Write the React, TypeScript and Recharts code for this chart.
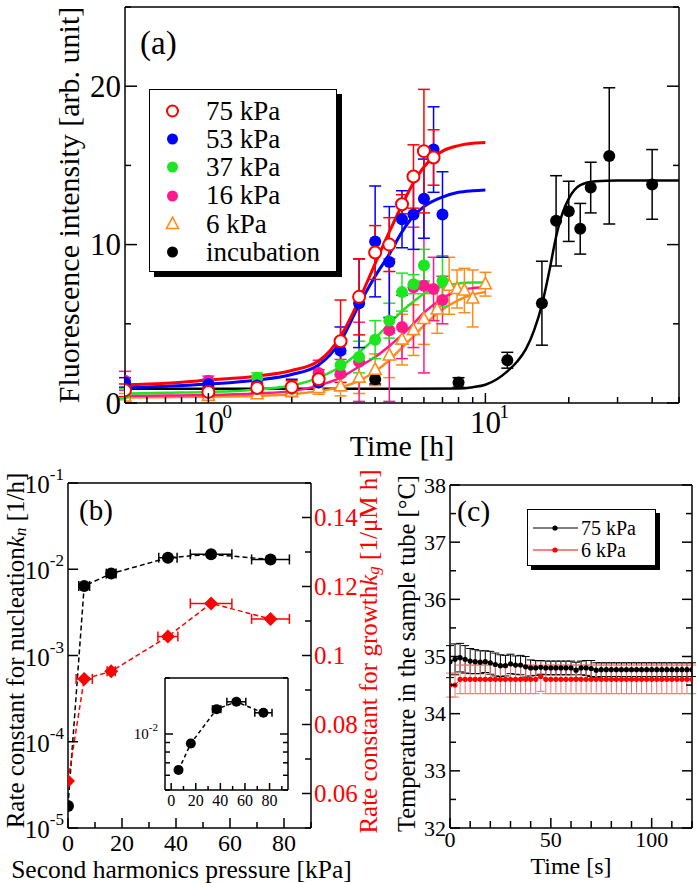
'use client'

import React from 'react'
import { ComposedChart, Line, Scatter, XAxis, YAxis, ErrorBar, Legend, Label, CartesianGrid } from 'recharts'

const serif = 'Liberation Serif, DejaVu Serif, serif'
const zero = { top: 0, right: 0, bottom: 0, left: 0 }
const frame = { stroke: '#000', strokeWidth: 1.5 }

// ---------- (a) fluorescence vs time ----------
const t75 = [0.5, 1, 1.5, 2, 2.5, 3, 3.5, 4, 4.5, 5, 5.5, 6, 6.5]
const v75 = [0.8, 0.7, 0.95, 1.0, 1.5, 3.9, 6.7, 9.5, 10.0, 12.55, 14.3, 15.9, 15.5]
const e75 = [0.4, 0.3, 0.3, 0.4, 0.6, 2.6, 2.4, 1.7, 1.7, 0.6, 2.0, 3.9, 1.75]

const t53 = [0.5, 1, 1.5, 2, 2.5, 3, 3.5, 4, 4.5, 5, 5.5, 6, 6.5, 7]
const v53 = [1.3, 1.2, 1.1, 1.0, 1.3, 3.3, 6.3, 10.2, 8.9, 11.6, 11.9, 12.9, 16.0, 11.9]
const e53 = [0.3, 0.3, 0.3, 0.5, 0.4, 1.5, 2.8, 3.5, 3.5, 1.8, 2.2, 2.5, 2.7, 2.7]

const t37 = [0.5, 1, 1.5, 2, 2.5, 3, 3.5, 4, 4.5, 5, 5.5, 6, 7]
const v37 = [0.6, 0.7, 1.6, 0.9, 1.3, 2.4, 2.9, 4.0, 5.2, 7.0, 7.5, 8.7, 7.7]
const e37 = [0.3, 0.3, 0.3, 0.3, 0.4, 0.7, 1.0, 1.2, 1.1, 1.2, 0.6, 1.0, 1.6]

const t16 = [0.5, 1, 1.5, 2, 2.5, 3, 3.5, 4.5, 5, 5.5, 6, 6.5, 7]
const v16 = [1.4, 1.4, 1.2, 0.9, 1.9, 1.85, 2.6, 4.6, 4.8, 7.3, 7.4, 7.2, 6.5]
const e16 = [0.6, 0.3, 0.3, 0.3, 0.8, 0.9, 2.5, 4.5, 2.0, 3.8, 5.5, 2.0, 1.5]

const t6 = [0.5, 1, 1.5, 2, 2.5, 3, 3.5, 4, 4.5, 5, 5.5, 6, 6.7, 7.4, 7.9, 8.4, 9, 10]
const v6 = [0.4, 0.45, 0.55, 0.7, 0.95, 1.05, 1.6, 2.1, 3.0, 4.0, 4.6, 5.3, 5.9, 7.4, 7.2, 7.1, 6.6, 7.5]
const e6 = [0.2, 0.2, 0.2, 0.3, 0.4, 0.6, 1.0, 1.0, 1.4, 1.6, 1.6, 1.6, 1.5, 1.8, 1.2, 1.4, 1.8, 0.75]

const tInc = [4, 8, 12, 16, 18, 20, 22, 24, 28, 40]
const vInc = [1.5, 1.3, 2.7, 6.3, 11.5, 12.1, 11.0, 13.6, 15.6, 13.8]
const eInc = [0.3, 0.3, 0.5, 2.65, 2.85, 1.9, 1.6, 1.6, 4.3, 2.2]

// fitted curves
const fitT = [0.5, 0.7, 1, 1.5, 2, 2.5, 3, 3.5, 4, 4.5, 5, 5.5, 6, 7, 8, 9, 10]
const fit75 = [1.15, 1.25, 1.45, 1.7, 2.05, 2.65, 4.2, 6.5, 8.8, 10.8, 12.5, 13.9, 14.9, 15.9, 16.25, 16.4, 16.45]
const fit53 = [0.95, 1.05, 1.2, 1.45, 1.8, 2.4, 3.9, 6.2, 8.0, 9.4, 10.8, 11.8, 12.4, 13.0, 13.3, 13.4, 13.45]
const fit37 = [0.6, 0.65, 0.7, 0.85, 1.1, 1.6, 2.3, 3.2, 4.1, 5.0, 5.8, 6.4, 6.9, 7.35, 7.55, 7.6, 7.6]
const fit16 = [0.45, 0.47, 0.5, 0.6, 0.75, 1.1, 1.6, 2.3, 2.9, 3.6, 4.3, 5.0, 5.7, 6.6, 7.1, 7.25, 7.3]
const fit6 = [0.35, 0.37, 0.4, 0.45, 0.55, 0.75, 1.0, 1.4, 2.0, 2.7, 3.5, 4.2, 4.9, 5.9, 6.5, 6.85, 7.0]
const fitTInc = [0.5, 2, 5, 8, 9, 10, 11, 12, 13, 14, 15, 16, 17, 18, 19, 20, 22, 25, 30, 50]
const fitInc = [0.9, 0.9, 0.9, 0.92, 1.0, 1.15, 1.5, 2.0, 2.6, 3.4, 4.6, 6.2, 8.3, 10.5, 12.0, 12.9, 13.75, 14.0, 14.05, 14.05]

const ticksAx = [0.5, 0.6, 0.7, 0.8, 0.9, 1, 2, 3, 4, 5, 6, 7, 8, 9, 10, 20, 30, 40, 50]
const labelsAx = [1, 10]
const ticksAy = [0, 5, 10, 15, 20, 25]
const labelsAy = [0, 10, 20]

// ---------- (b) rate constants ----------
const pressure = [0, 6, 16, 37, 53, 75]
const pressureErrKn = [0, 2, 1.8, 3.4, 7.7, 7]
const pressureErrKg = [0, 3, 1.5, 3.7, 7.7, 7]
const kn = [1.8e-5, 6.4e-3, 8.9e-3, 1.36e-2, 1.49e-2, 1.3e-2]
const kg = [0.0636, 0.0932, 0.0954, 0.1055, 0.1151, 0.1106]

const ticksBx = [0, 10, 20, 30, 40, 50, 60, 70, 80, 90]
const labelsBx = [0, 20, 40, 60, 80]
const ticksBl = [1e-5, 1e-4, 1e-3, 1e-2, 1e-1]
const ticksBr = [0.05, 0.06, 0.07, 0.08, 0.09, 0.1, 0.11, 0.12, 0.13, 0.14, 0.15]
const labelsBr = [0.06, 0.08, 0.1, 0.12, 0.14]
const ticksInsetX = [0, 10, 20, 30, 40, 50, 60, 70, 80, 90]
const ticksInsetY = [0.005, 0.006, 0.007, 0.008, 0.009, 0.01, 0.02]

// ---------- (c) temperature ----------
const timeC = [0, 2.5, 5, 7.5, 10, 12.5, 15, 17.5, 20, 22.5, 25, 27.5, 30, 32.5, 35, 37.5, 40, 42.5, 45, 47.5, 50, 52.5, 55, 57.5, 60, 62.5, 65, 67.5, 70, 72.5, 75, 77.5, 80, 82.5, 85, 87.5, 90, 92.5, 95, 97.5, 100, 102.5, 105, 107.5, 110, 112.5, 115, 117.5, 120]
const temp75 = [34.91, 34.95, 34.98, 34.95, 34.92, 34.91, 34.9, 34.91, 34.89, 34.86, 34.84, 34.84, 34.87, 34.85, 34.85, 34.82, 34.8, 34.8, 34.81, 34.8, 34.8, 34.8, 34.8, 34.8, 34.8, 34.76, 34.8, 34.8, 34.79, 34.76, 34.77, 34.77, 34.77, 34.77, 34.77, 34.77, 34.77, 34.77, 34.77, 34.77, 34.77, 34.77, 34.77, 34.77, 34.77, 34.77, 34.77, 34.77, 34.77]
const err75 = [0.28, 0.27, 0.25, 0.24, 0.22, 0.21, 0.2, 0.19, 0.2, 0.2, 0.19, 0.18, 0.17, 0.16, 0.17, 0.18, 0.14, 0.13, 0.12, 0.12, 0.12, 0.12, 0.12, 0.12, 0.12, 0.14, 0.12, 0.13, 0.14, 0.13, 0.12, 0.12, 0.12, 0.12, 0.12, 0.12, 0.12, 0.12, 0.12, 0.12, 0.12, 0.12, 0.12, 0.12, 0.12, 0.12, 0.12, 0.12, 0.12]
const temp6 = [34.5, 34.5, 34.6, 34.6, 34.6, 34.6, 34.6, 34.6, 34.6, 34.6, 34.6, 34.6, 34.6, 34.6, 34.6, 34.6, 34.6, 34.6, 34.65, 34.6, 34.6, 34.6, 34.6, 34.6, 34.6, 34.6, 34.6, 34.6, 34.6, 34.6, 34.6, 34.6, 34.6, 34.6, 34.6, 34.6, 34.6, 34.6, 34.6, 34.6, 34.6, 34.6, 34.6, 34.6, 34.6, 34.6, 34.6, 34.6, 34.6]
const err6 = [0.21, 0.21, 0.25, 0.25, 0.25, 0.25, 0.25, 0.25, 0.25, 0.25, 0.25, 0.25, 0.25, 0.25, 0.25, 0.25, 0.25, 0.25, 0.26, 0.25, 0.25, 0.25, 0.25, 0.25, 0.25, 0.25, 0.25, 0.25, 0.25, 0.25, 0.25, 0.25, 0.25, 0.25, 0.25, 0.25, 0.25, 0.25, 0.25, 0.25, 0.25, 0.25, 0.25, 0.25, 0.25, 0.25, 0.25, 0.25, 0.25]
const ticksCx = [0, 10, 20, 30, 40, 50, 60, 70, 80, 90, 100, 110, 120]
const labelsCx = [0, 50, 100]
const ticksCy = [32, 32.5, 33, 33.5, 34, 34.5, 35, 35.5, 36, 36.5, 37, 37.5, 38]

const rowsOf = (xs: number[], ys: number[], es?: number[]) =>
  xs.map((x, i) => ({ x, y: ys[i], e: es ? es[i] : 0 }))

type Kind = 'dot' | 'ring' | 'tri' | 'diamond'

function Glyph({ kind, cx, cy, r, color }: { kind: Kind; cx: number; cy: number; r: number; color: string }) {
  if (kind === 'ring') return <circle cx={cx} cy={cy} r={r} fill="#fff" stroke={color} strokeWidth={2} />
  if (kind === 'tri')
    return (
      <polygon
        points={`${cx},${cy - r * 1.15} ${cx - r},${cy + r * 0.75} ${cx + r},${cy + r * 0.75}`}
        fill="#fff"
        stroke={color}
        strokeWidth={1.6}
      />
    )
  if (kind === 'diamond')
    return <polygon points={`${cx},${cy - r} ${cx + r},${cy} ${cx},${cy + r} ${cx - r},${cy}`} fill={color} />
  return <circle cx={cx} cy={cy} r={r} fill={color} />
}

const shapeOf = (kind: Kind, color: string, r: number) => (p: any) =>
  <Glyph kind={kind} cx={p.cx} cy={p.cy} r={r} color={color} />

type Side = 'bottom' | 'top' | 'left' | 'right'

// inward tick line + optional label
const tickRenderer =
  (side: Side, len: (v: number) => number, label?: (x: number, y: number, v: number) => React.ReactNode) =>
  (p: any) => {
    const v = p.payload.value
    const l = len(v)
    const x2 = side === 'left' ? p.x + l : side === 'right' ? p.x - l : p.x
    const y2 = side === 'bottom' ? p.y - l : side === 'top' ? p.y + l : p.y
    return (
      <g>
        <line x1={p.x} y1={p.y} x2={x2} y2={y2} stroke="#000" strokeWidth={1.5} />
        {label ? label(p.x, p.y, v) : null}
      </g>
    )
  }

const exp10 = (v: number) => Math.round(Math.log10(v))

const hTitle = (text: React.ReactNode, dy: number, size: number, dx = 0) => (p: any) => {
  const vb = p.viewBox
  return (
    <text x={vb.x + vb.width / 2 + dx} y={vb.y + dy} textAnchor="middle" fontFamily={serif} fontSize={size} fill="#000">
      {text}
    </text>
  )
}

const vTitle = (text: React.ReactNode, dx: number, size: number, fill = '#000', dy = 0) => (p: any) => {
  const vb = p.viewBox
  const cx = vb.x + dx
  const cy = vb.y + vb.height / 2 + dy
  return (
    <text
      x={cx}
      y={cy}
      transform={`rotate(-90 ${cx} ${cy})`}
      textAnchor="middle"
      dominantBaseline="central"
      fontFamily={serif}
      fontSize={size}
      fill={fill}
    >
      {text}
    </text>
  )
}

const seriesA: { name: string; t: number[]; v: number[]; e: number[]; ft: number[]; fv: number[]; color: string; kind: Kind; lw: number }[] = [
  { name: 'incubation', t: tInc, v: vInc, e: eInc, ft: fitTInc, fv: fitInc, color: '#000000', kind: 'dot', lw: 2.5 },
  { name: '6 kPa', t: t6, v: v6, e: e6, ft: fitT, fv: fit6, color: '#ff8c1a', kind: 'tri', lw: 2.5 },
  { name: '16 kPa', t: t16, v: v16, e: e16, ft: fitT, fv: fit16, color: '#ff1a8c', kind: 'dot', lw: 2.5 },
  { name: '37 kPa', t: t37, v: v37, e: e37, ft: fitT, fv: fit37, color: '#1ee61e', kind: 'dot', lw: 2.5 },
  { name: '53 kPa', t: t53, v: v53, e: e53, ft: fitT, fv: fit53, color: '#0000ff', kind: 'dot', lw: 3 },
  { name: '75 kPa', t: t75, v: v75, e: e75, ft: fitT, fv: fit75, color: '#ff0000', kind: 'ring', lw: 3 },
]
const legendOrderA = ['75 kPa', '53 kPa', '37 kPa', '16 kPa', '6 kPa', 'incubation']

function LegendA() {
  return (
    <div
      style={{
        boxSizing: 'border-box',
        width: 188,
        height: 183,
        border: '1.5px solid #000',
        boxShadow: '5px 5px 0 0 #000',
        background: '#fff',
        paddingTop: 6.5,
        fontFamily: serif,
        fontSize: 27,
        color: '#000',
      }}
    >
      {legendOrderA.map((n) => {
        const s = seriesA.find((q) => q.name === n)!
        return (
          <div key={n} style={{ display: 'flex', alignItems: 'center', height: 28.34, lineHeight: '28.34px' }}>
            <svg width={56} height={20} style={{ flex: 'none' }}>
              <Glyph kind={s.kind} cx={22.5} cy={10} r={s.kind === 'tri' ? 6 : 5.5} color={s.color} />
            </svg>
            <span style={{ whiteSpace: 'nowrap' }}>{n}</span>
          </div>
        )
      })}
    </div>
  )
}

function PanelA() {
  return (
    <ComposedChart width={697} height={470} margin={zero}>
      <XAxis
        dataKey="x"
        type="number"
        scale="log"
        domain={[0.5, 50]}
        allowDataOverflow
        ticks={ticksAx}
        interval={0}
        height={67}
        axisLine={frame}
        tickLine={false}
        tickSize={0}
        tickMargin={0}
        tick={tickRenderer(
          'bottom',
          (v) => (labelsAx.includes(v) ? 10 : 6),
          (x, y, v) =>
            labelsAx.includes(v) ? (
              <g fontFamily={serif} fill="#000">
                <text x={x} y={y + 30} fontSize={31} textAnchor="middle">10</text>
                <text x={x + 14} y={y + 15} fontSize={19}>{exp10(v)}</text>
              </g>
            ) : null,
        )}
      >
        <Label content={hTitle('Time [h]', 53, 30)} />
      </XAxis>
      <XAxis
        xAxisId="top"
        orientation="top"
        type="number"
        scale="log"
        domain={[0.5, 50]}
        allowDataOverflow
        ticks={ticksAx}
        interval={0}
        height={7}
        axisLine={frame}
        tickLine={false}
        tickSize={0}
        tickMargin={0}
        tick={tickRenderer('top', (v) => (labelsAx.includes(v) ? 11 : 5))}
      />
      <YAxis
        dataKey="y"
        type="number"
        domain={[0, 25]}
        allowDataOverflow
        ticks={ticksAy}
        interval={0}
        width={125}
        axisLine={frame}
        tickLine={false}
        tickSize={0}
        tickMargin={0}
        tick={tickRenderer(
          'left',
          (v) => (labelsAy.includes(v) ? 12 : 6),
          (x, y, v) =>
            labelsAy.includes(v) ? (
              <text x={x - 4} y={y + 10.5} textAnchor="end" fontFamily={serif} fontSize={31} fill="#000">{v}</text>
            ) : null,
        )}
      >
        <Label content={vTitle('Fluorescence intensity [arb. unit]', 68, 30)} />
      </YAxis>
      <YAxis
        yAxisId="right"
        orientation="right"
        type="number"
        domain={[0, 25]}
        allowDataOverflow
        ticks={ticksAy}
        interval={0}
        width={18}
        axisLine={frame}
        tickLine={false}
        tickSize={0}
        tickMargin={0}
        tick={tickRenderer('right', (v) => (labelsAy.includes(v) ? 12 : 6))}
      />
      {seriesA.map((s) => [
        <Line
          key={s.name + '-fit'}
          data={rowsOf(s.ft, s.fv)}
          dataKey="y"
          type="monotone"
          stroke={s.color}
          strokeWidth={s.lw}
          dot={false}
          legendType="none"
          isAnimationActive={false}
        />,
        <Scatter
          key={s.name}
          name={s.name}
          data={rowsOf(s.t, s.v, s.e)}
          fill={s.color}
          shape={shapeOf(s.kind, s.color, 6)}
          isAnimationActive={false}
        >
          <ErrorBar dataKey="e" direction="y" width={6} stroke={s.color} strokeWidth={1.5} />
        </Scatter>,
      ])}
      <Legend
        layout="horizontal"
        verticalAlign="middle"
        align="center"
        wrapperStyle={{ left: 149, top: 89, width: 188, height: 183 }}
        content={() => <LegendA />}
      />
    </ComposedChart>
  )
}

const knRows = rowsOf(pressure, kn, pressureErrKn)
const kgRows = rowsOf(pressure, kg, pressureErrKg)

function PanelB() {
  return (
    <ComposedChart width={400} height={423} margin={zero}>
      <XAxis
        dataKey="x"
        type="number"
        domain={[0, 90]}
        allowDataOverflow
        ticks={ticksBx}
        interval={0}
        height={55}
        axisLine={frame}
        tickLine={false}
        tickSize={0}
        tickMargin={0}
        tick={tickRenderer(
          'bottom',
          (v) => (labelsBx.includes(v) ? 10 : 6),
          (x, y, v) =>
            labelsBx.includes(v) ? (
              <text x={x} y={y + 23} textAnchor="middle" fontFamily={serif} fontSize={24} fill="#000">{v}</text>
            ) : null,
        )}
      >
        <Label content={hTitle('Second harmonics pressure [kPa]', 49.5, 25.5, -8)} />
      </XAxis>
      <XAxis
        xAxisId="top"
        orientation="top"
        type="number"
        domain={[0, 90]}
        allowDataOverflow
        ticks={ticksBx}
        interval={0}
        height={23}
        axisLine={frame}
        tickLine={false}
        tickSize={0}
        tickMargin={0}
        tick={tickRenderer('top', (v) => (labelsBx.includes(v) ? 10 : 6))}
      />
      <YAxis
        dataKey="y"
        type="number"
        scale="log"
        domain={[1e-5, 1e-1]}
        allowDataOverflow
        ticks={ticksBl}
        interval={0}
        width={68}
        axisLine={frame}
        tickLine={false}
        tickSize={0}
        tickMargin={0}
        tick={tickRenderer(
          'left',
          () => 10,
          (x, y, v) => (
            <text x={x - 4} y={y + 10} textAnchor="end" fontFamily={serif} fontSize={25} fill="#000">
              10<tspan dy={-13} fontSize={17}>{exp10(v)}</tspan>
            </text>
          ),
        )}
      >
        <Label
          content={vTitle(
            <>
              Rate constant for nucleation<tspan fontStyle="italic">k</tspan>
              <tspan fontStyle="italic" fontSize={17} dy={5}>n</tspan>
              <tspan dy={-5}> [1/h]</tspan>
            </>,
            15,
            25,
            '#000',
            -5,
          )}
        />
      </YAxis>
      <YAxis
        yAxisId="kg"
        orientation="right"
        dataKey="y"
        type="number"
        domain={[0.05, 0.15]}
        allowDataOverflow
        ticks={ticksBr}
        interval={0}
        width={89}
        axisLine={frame}
        tickLine={false}
        tickSize={0}
        tickMargin={0}
        tick={tickRenderer(
          'right',
          (v) => (labelsBr.includes(v) ? 9 : 6),
          (x, y, v) =>
            labelsBr.includes(v) ? (
              <text x={x + 3} y={y + 8.5} textAnchor="start" fontFamily={serif} fontSize={25} fill="#ff0000">
                {String(v)}
              </text>
            ) : null,
        )}
      >
        <Label
          content={vTitle(
            <>
              Rate constant for growth<tspan fontStyle="italic">k</tspan>
              <tspan fontStyle="italic" fontSize={17} dy={5}>g</tspan>
              <tspan dy={-5}> [1/μM h]</tspan>
            </>,
            57,
            25,
            '#ff0000',
            -4,
          )}
        />
      </YAxis>
      <Line data={knRows} dataKey="y" type="linear" stroke="#000" strokeWidth={1.5} strokeDasharray="5 3" dot={false} legendType="none" isAnimationActive={false} />
      <Line yAxisId="kg" data={kgRows} dataKey="y" type="linear" stroke="#ff0000" strokeWidth={1.5} strokeDasharray="5 3" dot={false} legendType="none" isAnimationActive={false} />
      <Scatter name="kn" data={knRows} fill="#000" shape={shapeOf('dot', '#000', 6)} isAnimationActive={false}>
        <ErrorBar dataKey="e" direction="x" width={5} stroke="#000" strokeWidth={1.5} />
      </Scatter>
      <Scatter yAxisId="kg" name="kg" data={kgRows} fill="#ff0000" shape={shapeOf('diamond', '#ff0000', 7)} isAnimationActive={false}>
        <ErrorBar dataKey="e" direction="x" width={5} stroke="#ff0000" strokeWidth={1.5} />
      </Scatter>
    </ComposedChart>
  )
}

const insetRows = rowsOf(pressure.slice(1), kn.slice(1), pressureErrKn.slice(1))

function InsetB() {
  return (
    <ComposedChart width={176} height={142} margin={zero}>
      <CartesianGrid fill="#fff" stroke="none" horizontal={false} vertical={false} />
      <XAxis
        dataKey="x"
        type="number"
        domain={[-5, 95]}
        allowDataOverflow
        ticks={ticksInsetX}
        interval={0}
        height={20}
        axisLine={frame}
        tickLine={false}
        tickSize={0}
        tickMargin={0}
        tick={tickRenderer(
          'bottom',
          (v) => (labelsBx.includes(v) ? 7 : 4),
          (x, y, v) =>
            labelsBx.includes(v) ? (
              <text x={x} y={y + 16} textAnchor="middle" fontFamily={serif} fontSize={16} fill="#000">{v}</text>
            ) : null,
        )}
      />
      <XAxis
        xAxisId="top"
        orientation="top"
        type="number"
        domain={[-5, 95]}
        allowDataOverflow
        ticks={ticksInsetX}
        interval={0}
        height={10}
        axisLine={frame}
        tickLine={false}
        tickSize={0}
        tickMargin={0}
        tick={tickRenderer('top', (v) => (labelsBx.includes(v) ? 7 : 4))}
      />
      <YAxis
        dataKey="y"
        type="number"
        scale="log"
        domain={[0.005, 0.02]}
        allowDataOverflow
        ticks={ticksInsetY}
        interval={0}
        width={45}
        axisLine={frame}
        tickLine={false}
        tickSize={0}
        tickMargin={0}
        tick={tickRenderer(
          'left',
          (v) => (v === 0.01 ? 8 : 5),
          (x, y, v) =>
            v === 0.01 ? (
              <text x={x - 7} y={y + 5} textAnchor="end" fontFamily={serif} fontSize={15} fill="#000">
                10<tspan dy={-8} fontSize={11}>{exp10(v)}</tspan>
              </text>
            ) : null,
        )}
      />
      <YAxis
        yAxisId="right"
        orientation="right"
        type="number"
        scale="log"
        domain={[0.005, 0.02]}
        allowDataOverflow
        ticks={ticksInsetY}
        interval={0}
        width={8}
        axisLine={frame}
        tickLine={false}
        tickSize={0}
        tickMargin={0}
        tick={tickRenderer('right', (v) => (v === 0.01 ? 8 : 5))}
      />
      <Line data={insetRows} dataKey="y" type="linear" stroke="#000" strokeWidth={1.5} strokeDasharray="4 3" dot={false} legendType="none" isAnimationActive={false} />
      <Scatter data={insetRows} fill="#000" shape={shapeOf('dot', '#000', 5)} isAnimationActive={false}>
        <ErrorBar dataKey="e" direction="x" width={4} stroke="#000" strokeWidth={1.5} />
      </Scatter>
    </ComposedChart>
  )
}

const rowsC75 = rowsOf(timeC, temp75, err75)
const rowsC6 = rowsOf(timeC, temp6, err6)

function LegendC() {
  const items = [
    { name: '75 kPa', color: '#000' },
    { name: '6 kPa', color: '#ff0000' },
  ]
  return (
    <div
      style={{
        boxSizing: 'border-box',
        width: 129,
        height: 57,
        border: '1.5px solid #000',
        boxShadow: '4px 4px 0 0 #000',
        background: '#fff',
        paddingTop: 6.5,
        fontFamily: serif,
        fontSize: 20,
        color: '#000',
      }}
    >
      {items.map((it) => (
        <div key={it.name} style={{ display: 'flex', alignItems: 'center', height: 22.5, lineHeight: '22.5px' }}>
          <svg width={53} height={10} style={{ flex: 'none' }}>
            <line x1={5} y1={5} x2={50} y2={5} stroke={it.color} strokeWidth={1} />
            <circle cx={27} cy={5} r={2.6} fill={it.color} />
          </svg>
          <span style={{ whiteSpace: 'nowrap' }}>{it.name}</span>
        </div>
      ))}
    </div>
  )
}

function PanelC() {
  return (
    <ComposedChart width={317} height={423} margin={zero}>
      <XAxis
        dataKey="x"
        type="number"
        domain={[0, 120]}
        allowDataOverflow
        ticks={ticksCx}
        interval={0}
        height={55}
        axisLine={frame}
        tickLine={false}
        tickSize={0}
        tickMargin={0}
        tick={tickRenderer(
          'bottom',
          (v) => (labelsCx.includes(v) ? 10 : 7),
          (x, y, v) =>
            labelsCx.includes(v) ? (
              <text x={x} y={y + 19} textAnchor="middle" fontFamily={serif} fontSize={22} fill="#000">{v}</text>
            ) : null,
        )}
      >
        <Label content={hTitle('Time [s]', 46, 24)} />
      </XAxis>
      <XAxis
        xAxisId="top"
        orientation="top"
        type="number"
        domain={[0, 120]}
        allowDataOverflow
        ticks={ticksCx}
        interval={0}
        height={25}
        axisLine={frame}
        tickLine={false}
        tickSize={0}
        tickMargin={0}
        tick={tickRenderer('top', (v) => (labelsCx.includes(v) ? 10 : 7))}
      />
      <YAxis
        dataKey="y"
        type="number"
        domain={[32, 38]}
        allowDataOverflow
        ticks={ticksCy}
        interval={0}
        width={70}
        axisLine={frame}
        tickLine={false}
        tickSize={0}
        tickMargin={0}
        tick={tickRenderer(
          'left',
          (v) => (Number.isInteger(v) ? 10 : 6),
          (x, y, v) =>
            Number.isInteger(v) ? (
              <text x={x - 4} y={y + 7.5} textAnchor="end" fontFamily={serif} fontSize={22} fill="#000">{v}</text>
            ) : null,
        )}
      >
        <Label content={vTitle('Temperature in the sample tube [°C]', 26, 24.5, '#000', -3)} />
      </YAxis>
      <YAxis
        yAxisId="right"
        orientation="right"
        type="number"
        domain={[32, 38]}
        allowDataOverflow
        ticks={ticksCy}
        interval={0}
        width={5}
        axisLine={frame}
        tickLine={false}
        tickSize={0}
        tickMargin={0}
        tick={tickRenderer('right', (v) => (Number.isInteger(v) ? 10 : 6))}
      />
      <Line
        name="75 kPa"
        data={rowsC75}
        dataKey="y"
        type="linear"
        stroke="#000"
        strokeWidth={1}
        dot={{ r: 2.6, fill: '#000', stroke: '#000', strokeWidth: 0 }}
        isAnimationActive={false}
      >
        <ErrorBar dataKey="e" width={4} stroke="#000" strokeWidth={1} />
      </Line>
      <Line
        name="6 kPa"
        data={rowsC6}
        dataKey="y"
        type="linear"
        stroke="#ff0000"
        strokeWidth={1}
        dot={{ r: 2.6, fill: '#ff0000', stroke: '#ff0000', strokeWidth: 0 }}
        isAnimationActive={false}
      >
        <ErrorBar dataKey="e" width={4} stroke="#ff7070" strokeWidth={1} />
      </Line>
      <Legend
        layout="horizontal"
        verticalAlign="middle"
        align="center"
        wrapperStyle={{ left: 147, top: 49, width: 129, height: 57 }}
        content={() => <LegendC />}
      />
    </ComposedChart>
  )
}

const panelLetter = (text: string, left: number, top: number, size: number) => (
  <div style={{ position: 'absolute', left, top, fontFamily: serif, fontSize: size, lineHeight: `${size}px`, color: '#000' }}>
    {text}
  </div>
)

export default function App() {
  return (
    <div style={{ position: 'absolute', left: 0, top: 0, width: 697, height: 883, background: '#fff', overflow: 'hidden', fontFamily: serif }}>
      <div style={{ position: 'absolute', left: 0, top: 0 }}>
        <PanelA />
      </div>
      <div style={{ position: 'absolute', left: 0, top: 460 }}>
        <PanelB />
      </div>
      <div style={{ position: 'absolute', left: 120, top: 668 }}>
        <InsetB />
      </div>
      <div style={{ position: 'absolute', left: 380, top: 460 }}>
        <PanelC />
      </div>
      {panelLetter('(a)', 140, 27, 33)}
      {panelLetter('(b)', 79, 496, 29)}
      {panelLetter('(c)', 457, 496, 30)}
    </div>
  )
}
